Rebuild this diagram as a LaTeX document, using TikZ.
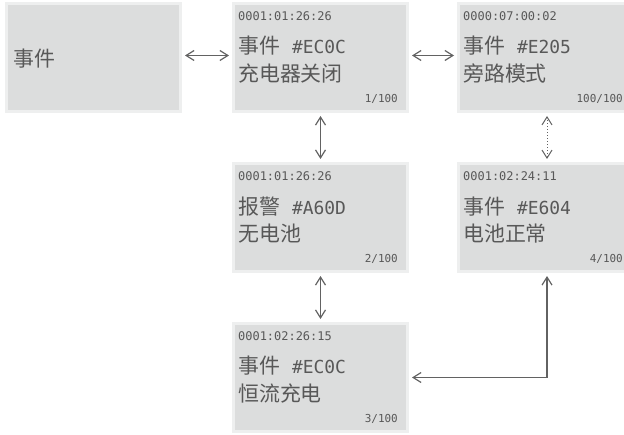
\documentclass[tikz,border=0pt]{standalone}
\usepackage{fontspec}
\setmainfont{Noto Sans CJK SC}
\setmonofont{DejaVu Sans Mono}
\usetikzlibrary{arrows.meta,positioning}
\definecolor{ink}{HTML}{585858}
\definecolor{lineInk}{HTML}{626262}
\definecolor{panelFill}{HTML}{DCDDDD}
\definecolor{panelEdge}{HTML}{EEEFEF}
\newcommand{\code}[1]{{\fontsize{18}{28}\selectfont\ttfamily #1}}
\tikzset{
  every node/.append style = {text=ink},
  % --- screens ------------------------------------------------------------
  panel/.style = {draw=panelEdge, fill=panelFill, line width=3bp,
                  minimum width=174bp, minimum height=108bp, inner sep=0pt},
  % --- labels -------------------------------------------------------------
  stamp/.style = {font=\fontsize{12}{14}\selectfont\ttfamily, inner sep=0pt},
  msg/.style   = {font=\fontsize{21}{28}\selectfont, align=left, inner sep=0pt},
  count/.style = {font=\fontsize{11}{13}\selectfont\ttfamily, inner sep=0pt},
  % --- relations ----------------------------------------------------------
  link/.style  = {draw=lineInk, line width=1.2bp,
                  {Straight Barb[length=8bp,width=10bp]}-{Straight Barb[length=8bp,width=10bp]},
                  shorten <=3bp, shorten >=3bp},
}

\begin{document}
\begin{tikzpicture}[x=1bp, y=-1bp]
\clip (0,0) rectangle (624,435);

% ==================== screens ==============================================
\node[panel] (event) at (93.5,57.5) {};
\node[panel, right=50bp of event]    (chgoff) {};
\node[panel, right=48bp of chgoff]   (bypass) {};
\node[panel, below=49bp of chgoff]   (nobatt) {};
\node[panel, below=49bp of bypass]   (battok) {};
\node[panel, below=49bp of nobatt]   (cccharge) {};

\node[msg, anchor=west] (event-msg) at ([shift={(8,1)}]event.west) {事件};

% time stamp, message, page counter on each screen
\foreach \s/\t/\m/\c in {%
  chgoff/0001:01:26:26/事件\hspace{12bp}\code{\#EC0C}\\充电器关闭/1\slash100,
  bypass/0000:07:00:02/事件\hspace{12bp}\code{\#E205}\\旁路模式/100\slash100,
  nobatt/0001:01:26:26/报警\hspace{12bp}\code{\#A60D}\\无电池/2\slash100,
  battok/0001:02:24:11/事件\hspace{12bp}\code{\#E604}\\电池正常/4\slash100,
  cccharge/0001:02:26:15/事件\hspace{12bp}\code{\#EC0C}\\恒流充电/3\slash100}{
  \node[stamp, anchor=west] (\s-time) at ([shift={(6,14)}]\s.north west) {\t};
  \node[msg, anchor=west]   (\s-msg)  at ([shift={(6,58)}]\s.north west) {\m};
  \node[count, anchor=east] (\s-no)   at ([shift={(-11,97)}]\s.north east) {\c};}

% ==================== links ================================================
\draw[link] ([yshift=2bp]event.east) -- ([yshift=2bp]chgoff.west);
\draw[link] ([yshift=2bp]chgoff.east) -- ([yshift=2bp]bypass.west);
\draw[link] (chgoff) -- (nobatt);
\draw[link, line width=1bp, dotted] ([xshift=1.5bp]bypass.south) -- ([xshift=1.5bp]battok.north);
\draw[link] (nobatt) -- (cccharge);
\draw[link] ([xshift=1.5bp]battok.south) |- (cccharge.east);

\end{tikzpicture}
\end{document}
